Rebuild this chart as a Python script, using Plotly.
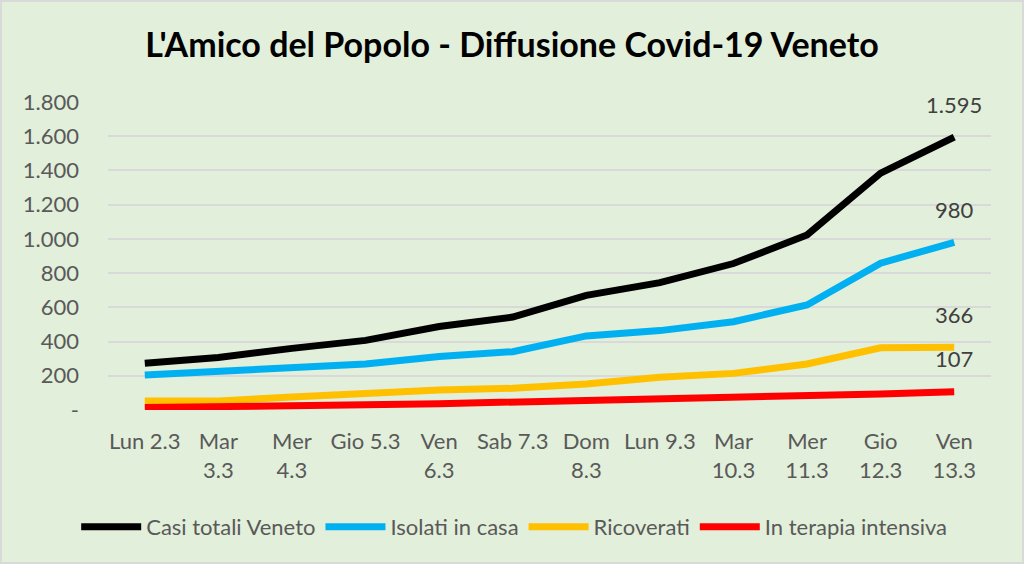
import plotly.graph_objects as go

categories = ["Lun 2.3", "Mar<br>3.3", "Mer<br>4.3", "Gio 5.3", "Ven<br>6.3", "Sab 7.3",
              "Dom<br>8.3", "Lun 9.3", "Mar<br>10.3", "Mer<br>11.3", "Gio<br>12.3", "Ven<br>13.3"]
casi_totali = [273, 307, 360, 407, 488, 543, 670, 744, 856, 1023, 1384, 1595]
isolati = [205, 225, 247, 269, 312, 341, 433, 464, 516, 614, 858, 980]
ricoverati = [53, 53, 76, 98, 117, 127, 152, 191, 214, 269, 364, 366]
terapia = [14, 17, 23, 31, 37, 45, 55, 62, 72, 78, 94, 107]
y_ticks = [0, 200, 400, 600, 800, 1000, 1200, 1400, 1600, 1800]

series = [
    ("Casi totali Veneto", casi_totali, "#000000"),
    ("Isolati in casa", isolati, "#00B0F0"),
    ("Ricoverati", ricoverati, "#FFC000"),
    ("In terapia intensiva", terapia, "#FF0000"),
]

def fmt(v):
    return "-" if v == 0 else f"{v:,}".replace(",", ".")

FONT = "Lato"
TXT = 22
fig = go.Figure()
for name, vals, col in series:
    fig.add_trace(go.Scatter(x=categories, y=vals, name=name, mode="lines",
                             line=dict(color=col, width=7)))
    fig.add_annotation(x=categories[-1], y=vals[-1], text=fmt(vals[-1]),
                       showarrow=False, yshift=33,
                       font=dict(family=FONT, size=TXT, color="#404040"))

fig.update_layout(
    width=1024, height=564,
    paper_bgcolor="#E2EFDA", plot_bgcolor="#E2EFDA",
    margin=dict(l=108, r=33, t=102, b=154),
    title=dict(text="<b>L'Amico del Popolo - Diffusione Covid-19 Veneto</b>",
               x=0.5, xanchor="center", y=0.92, yanchor="middle",
               font=dict(family=FONT, size=34, color="#000000")),
    font=dict(family=FONT, size=TXT, color="#595959"),
    showlegend=True,
    legend=dict(orientation="h", x=0.46, xanchor="center", y=-0.38, yanchor="middle",
                font=dict(family=FONT, size=TXT, color="#595959"),
                bgcolor="rgba(0,0,0,0)", itemwidth=60, tracegroupgap=0),
    xaxis=dict(type="category", range=[-0.5, 11.5], showgrid=False, zeroline=False,
               showline=False, ticks="", ticklabelstandoff=16,
               tickfont=dict(family=FONT, size=TXT, color="#595959"), tickangle=0),
    yaxis=dict(range=[0, 1800], tickvals=y_ticks, ticktext=[fmt(v) for v in y_ticks],
               showgrid=True, gridcolor="#D9D9D9", gridwidth=1.5, zeroline=False,
               showline=False, ticks="", ticklabelstandoff=28,
               tickfont=dict(family=FONT, size=TXT, color="#595959")),
    shapes=[dict(type="rect", xref="paper", yref="paper",
                 x0=-108/883, x1=1 + 33/883, y0=-154/308, y1=1 + 102/308,
                 line=dict(color="#D9D9D9", width=4), fillcolor="rgba(0,0,0,0)", layer="below")],
)

fig.write_html("out.html", config={"displayModeBar": False},
               post_script="document.body.style.margin='0';document.body.style.background='#E2EFDA';")
